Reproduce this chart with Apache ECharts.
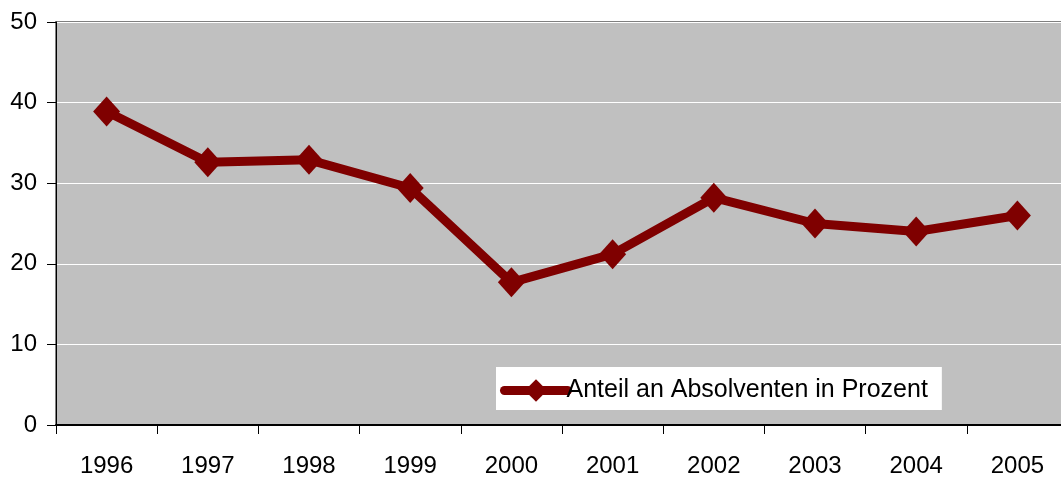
<!DOCTYPE html>
<html>
<head>
<meta charset="utf-8">
<script src="https://cdn.jsdelivr.net/npm/echarts@6/dist/echarts.min.js"></script>
<style>
  html, body { margin: 0; padding: 0; background: #ffffff; overflow: hidden; }
  /* the plot area runs slightly past the right edge of the window */
  #chart { width: 1068px; height: 480px; }
</style>
</head>
<body>
<div id="chart"></div>
<script>
// Jahre und Anteil der Absolventen (Prozent)
const years = ['1996', '1997', '1998', '1999', '2000', '2001', '2002', '2003', '2004', '2005'];
const anteil = [38.9, 32.6, 32.9, 29.4, 17.7, 21.2, 28.2, 25.0, 24.0, 26.0];
const seriesName = 'Anteil an Absolventen in Prozent';

const lineColor = '#7f0000';
const fontFamily = 'Arial, "Liberation Sans", sans-serif';

const chart = echarts.init(document.getElementById('chart'), null, { renderer: 'canvas' });
chart.setOption({
  animation: false,
  backgroundColor: '#ffffff',
  grid: {
    left: 56, top: 22, right: 0, bottom: 55,
    show: true,
    backgroundColor: '#c0c0c0',
    borderColor: '#808080',
    borderWidth: 2
  },
  legend: {
    left: 496, top: 367,
    padding: [11, 14, 7, 4],
    backgroundColor: '#ffffff',
    itemWidth: 63, itemHeight: 28,
    itemGap: 0,
    textStyle: { fontFamily, fontSize: 25, color: '#000000', padding: [0, 0, 0, -6] },
    lineStyle: { color: lineColor, width: 9, cap: 'round' },
    itemStyle: { color: lineColor },
    data: [seriesName]
  },
  xAxis: {
    type: 'category',
    data: years,
    boundaryGap: true,
    axisLine: { show: true, onZero: false, lineStyle: { color: '#000000', width: 2 } },
    axisTick: { show: true, length: 9, alignWithLabel: false, lineStyle: { color: '#000000', width: 1 } },
    axisLabel: { fontFamily, fontSize: 24, color: '#000000', margin: 29 },
    splitLine: { show: false }
  },
  yAxis: {
    type: 'value',
    min: 0, max: 50, interval: 10,
    axisLine: { show: true, lineStyle: { color: '#000000', width: 1 } },
    axisTick: { show: true, length: 9, lineStyle: { color: '#000000', width: 1 } },
    axisLabel: { fontFamily, fontSize: 24, color: '#000000', margin: 19 },
    splitLine: { show: true, lineStyle: { color: '#ffffff', width: 1 } }
  },
  series: [{
    name: seriesName,
    type: 'line',
    data: anteil,
    symbol: 'diamond',
    symbolSize: [27, 30],
    lineStyle: { color: lineColor, width: 9 },
    itemStyle: { color: lineColor },
    z: 5
  }]
});
</script>
</body>
</html>
